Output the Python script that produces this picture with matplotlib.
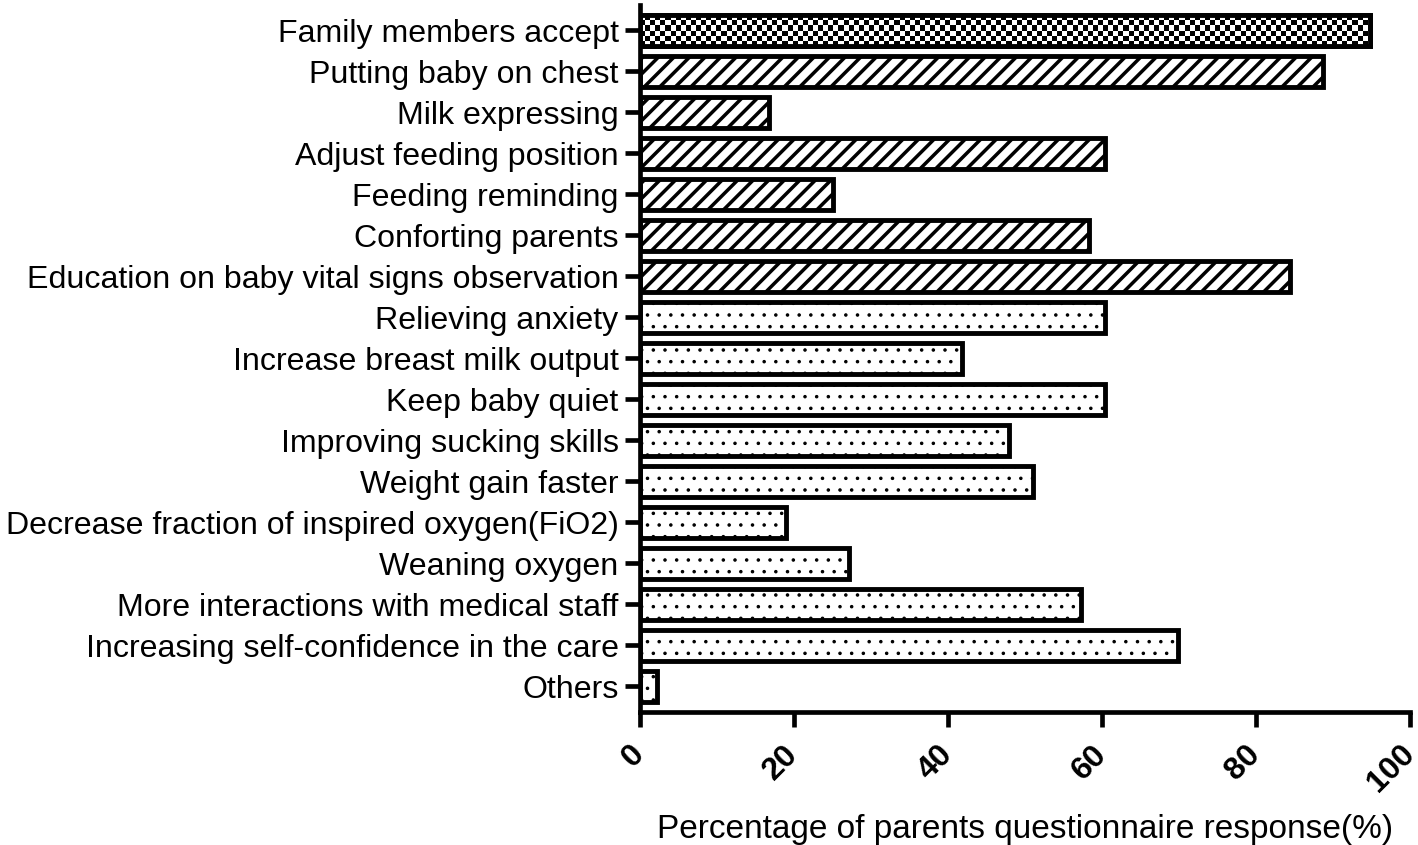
"""
Horizontal bar chart of parents' questionnaire responses.
"""

import matplotlib

matplotlib.use("Agg")

import matplotlib.pyplot as plt
import matplotlib.transforms as mtransforms
import numpy as np

plt.rcParams["font.family"] = ["Liberation Sans", "DejaVu Sans"]

categories = [
    "Family members accept",
    "Putting baby on chest",
    "Milk expressing",
    "Adjust feeding position",
    "Feeding reminding",
    "Conforting parents",
    "Education on baby vital signs observation",
    "Relieving anxiety",
    "Increase breast milk output",
    "Keep baby quiet",
    "Improving sucking skills",
    "Weight gain faster",
    "Decrease fraction of inspired oxygen(FiO2)",
    "Weaning oxygen",
    "More interactions with medical staff",
    "Increasing self-confidence in the care",
    "Others",
]

values = [
    94.8, 88.7, 16.8, 60.4, 25.1, 58.3, 84.4,
    60.4, 41.8, 60.4, 47.9, 51.0, 19.0, 27.1, 57.3, 69.9, 2.2,
]

# pattern group for each bar
groups = ["accept"] + ["nursing"] * 6 + ["benefit"] * 10
hatches = {"accept": None, "nursing": "///", "benefit": ".."}
hatch_lw = {"accept": 1.0, "nursing": 1.8, "benefit": 0.6}

x_ticks = [0, 20, 40, 60, 80, 100]

DPI = 140
fig = plt.figure(figsize=(1418 / DPI, 845 / DPI), dpi=DPI)
ax = fig.add_axes([0.4513, 0.1574, 0.9944 - 0.4513, 0.994 - 0.1574])

y_pos = np.arange(len(categories))[::-1]
bar_h = 0.75

for y, val, grp in zip(y_pos, values, groups):
    with plt.rc_context({"hatch.linewidth": hatch_lw[grp]}):
        bars = ax.barh(
            y,
            val,
            height=bar_h,
            color="white",
            edgecolor="black",
            linewidth=2.5,
            hatch=hatches[grp],
            zorder=2,
        )
    if grp == "accept":
        # checkerboard fill clipped to the bar
        cell_x, cell_y = 0.66, 0.125
        nx = int(np.ceil(val / cell_x))
        ny = int(np.ceil(bar_h / cell_y))
        iy, ix = np.indices((ny, nx))
        checker = (ix + iy) % 2
        img = ax.imshow(
            checker,
            cmap="gray",
            extent=(0, nx * cell_x, y - bar_h / 2, y - bar_h / 2 + ny * cell_y),
            aspect="auto",
            interpolation="nearest",
            origin="lower",
            zorder=2.5,
        )
        img.set_clip_path(bars[0])
        edge = plt.Rectangle(
            (0, y - bar_h / 2), val, bar_h,
            fill=False, edgecolor="black", linewidth=2.5, zorder=3,
        )
        ax.add_patch(edge)

ax.set_yticks(y_pos)
ax.set_yticklabels(categories, fontsize=16.5)
ax.set_ylim(-0.63, len(categories) - 1 + 0.62)

ax.set_xlim(0, 100)
ax.set_xticks(x_ticks)
ax.set_xticklabels(
    [str(t) for t in x_ticks],
    rotation=45,
    ha="right",
    va="center",
    rotation_mode="anchor",
    fontsize=16.5,
    fontweight="bold",
)
shift = mtransforms.ScaledTranslation(3 / DPI, 0, fig.dpi_scale_trans)
for lbl in ax.get_xticklabels():
    lbl.set_transform(lbl.get_transform() + shift)

ax.set_xlabel(
    "Percentage of parents questionnaire response(%)",
    fontsize=17.2,
    labelpad=8,
)

for side in ("top", "right"):
    ax.spines[side].set_visible(False)
for side in ("left", "bottom"):
    ax.spines[side].set_linewidth(2.4)
    ax.spines[side].set_zorder(4)

ax.tick_params(axis="both", width=2.4, length=7.5, color="black")
ax.tick_params(axis="x", pad=12)

fig.savefig("out.png", dpi=DPI)
